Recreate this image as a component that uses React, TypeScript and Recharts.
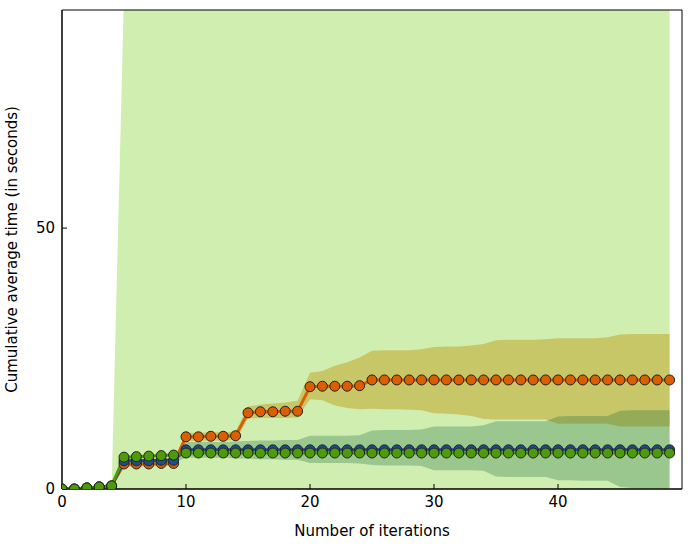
import React from 'react';
import { ComposedChart, Area, Line, XAxis, YAxis, ReferenceArea } from 'recharts';

const iterations = Array.from({ length: 50 }, (_, i) => i);

const orangeMean = [0, 0, 0.2, 0.4, 0.6, 4.8, 4.8, 4.8, 4.9, 4.9, 10, 10, 10.1, 10.1, 10.2,
  14.6, 14.8, 14.8, 14.9, 14.9, 19.6, 19.7, 19.7, 19.7, 19.8,
  20.9, 20.9, 20.9, 20.9, 20.9, 20.9, 20.9, 20.9, 20.9, 20.9, 20.9, 20.9, 20.9, 20.9, 20.9,
  20.9, 20.9, 20.9, 20.9, 20.9, 20.9, 20.9, 20.9, 20.9, 20.9];
const orangeLow = [0, 0, 0.1, 0.3, 0.5, 4.3, 4.3, 4.3, 4.4, 4.4, 9.2, 9.2, 9.3, 9.3, 9.4,
  13.5, 13.6, 13.6, 13.6, 13.7, 17.2, 17, 16, 15.5, 15.3, 15.4, 15.3, 15.3, 15.2, 15.1,
  14.5, 14.4, 14.3, 14, 13.4, 13.3, 13.3, 13.3, 13.3, 13.3, 12.5, 12.5, 12.5, 12.5, 12.5,
  12, 12, 12, 12, 12];
const orangeHigh = [0, 0, 0.3, 0.5, 0.7, 5.3, 5.3, 5.3, 5.4, 5.4, 10.8, 10.8, 10.9, 10.9, 11,
  15.8, 16.2, 16.4, 16.6, 16.9, 22.3, 22.6, 23.6, 24.3, 25.2, 26.5, 26.6, 26.6, 26.6, 26.8,
  27.2, 27.3, 27.3, 27.5, 27.8, 28.5, 28.6, 28.6, 28.6, 28.7, 28.9, 28.9, 28.9, 28.9, 29.1,
  29.6, 29.7, 29.7, 29.7, 29.7];

const blueMean = [0, 0, 0.2, 0.4, 0.5, 5.4, 5.4, 5.4, 5.5, 5.5, 7.5, 7.5, 7.5, 7.5, 7.5,
  7.5, 7.5, 7.5, 7.5, 7.5, 7.5, 7.5, 7.5, 7.5, 7.5, 7.5, 7.5, 7.5, 7.5, 7.5,
  7.5, 7.5, 7.5, 7.5, 7.5, 7.5, 7.5, 7.5, 7.5, 7.5, 7.5, 7.5, 7.5, 7.5, 7.5,
  7.5, 7.5, 7.5, 7.5, 7.5];
const blueLow = [0, 0, 0.1, 0.3, 0.4, 5, 5, 5, 5.1, 5.1, 6, 6, 6, 6, 5.9, 5.8, 5.7, 5.7, 5.6, 5.6,
  5, 5, 5, 5, 4.9, 4.6, 4.5, 4.5, 4.5, 4.4, 3.6, 3.6, 3.6, 3.6, 3.5, 2.4, 2.3, 2.3, 2.3, 2.3,
  1.7, 1.7, 1.6, 1.6, 1.6, 0.4, 0.2, 0.2, 0.2, 0.2];
const blueHigh = [0, 0, 0.3, 0.5, 0.6, 5.8, 5.8, 5.8, 5.9, 5.9, 9, 9, 9, 9, 9.1, 9.2, 9.3, 9.3, 9.4, 9.4,
  10.2, 10.2, 10.2, 10.2, 10.3, 11.2, 11.3, 11.3, 11.3, 11.4, 12, 12, 12, 12, 12.2, 13, 13, 13, 13, 13,
  13.9, 14, 14, 14, 14, 15, 15.1, 15.1, 15.1, 15.1];

const greenMean = [0, 0, 0.2, 0.4, 0.6, 6.1, 6.2, 6.3, 6.4, 6.5, 6.9, 6.9, 6.9, 6.9, 6.9,
  6.9, 6.9, 6.9, 6.9, 6.9, 6.9, 6.9, 6.9, 6.9, 6.9, 6.9, 6.9, 6.9, 6.9, 6.9,
  6.9, 6.9, 6.9, 6.9, 6.9, 6.9, 6.9, 6.9, 6.9, 6.9, 6.9, 6.9, 6.9, 6.9, 6.9,
  6.9, 6.9, 6.9, 6.9, 6.9];
const greenLow = iterations.map(() => 0);
const greenHigh = [null, null, null, null, 0, 95, 95, 95, 95, 95, 95, 95, 95, 95, 95,
  95, 95, 95, 95, 95, 95, 95, 95, 95, 95, 95, 95, 95, 95, 95,
  95, 95, 95, 95, 95, 95, 95, 95, 95, 95, 95, 95, 95, 95, 95,
  95, 95, 95, 95, 95];

const xTicks = [0, 10, 20, 30, 40];
const yTicks = [0, 50];
const yMax = 91.8;

const data = iterations.map((x, i) => ({
  x,
  orange: orangeMean[i],
  blue: blueMean[i],
  green: greenMean[i],
  oBand: [orangeLow[i], orangeHigh[i]],
  bBand: [blueLow[i], blueHigh[i]],
  gBand: greenHigh[i] == null ? null : [greenLow[i], greenHigh[i]],
}));

const font = { fontFamily: 'DejaVu Sans', fontSize: 15, fill: '#000' };

const dot = (fill: string) => ({ r: 5, fill, stroke: '#222', strokeWidth: 1 });

export default function App() {
  return (
    <div style={{ position: 'absolute', left: 0, top: 0, background: '#fff' }}>
      <ComposedChart width={691} height={548} data={data} margin={{ top: 10, right: 9, left: 0, bottom: 0 }}>
        <XAxis
          dataKey="x"
          type="number"
          domain={[0, 50]}
          ticks={xTicks}
          allowDataOverflow
          height={59}
          tick={font}
          tickSize={-5}
          tickMargin={12}
          stroke="#000"
          label={{ value: 'Number of iterations', position: 'insideBottom', offset: 12, style: font }}
        />
        <YAxis
          type="number"
          domain={[0, yMax]}
          ticks={yTicks}
          allowDataOverflow
          width={62}
          tick={font}
          tickSize={-5}
          tickMargin={12}
          stroke="#000"
          label={{ value: 'Cumulative average time (in seconds)', angle: -90, position: 'insideLeft', offset: 12, style: { ...font, textAnchor: 'middle' } }}
        />
        <Area dataKey="gBand" stroke="none" fill="#d0eeb0" fillOpacity={1} isAnimationActive={false} connectNulls={false} />
        <Area dataKey="oBand" stroke="none" fill="#c4b64a" fillOpacity={0.7} isAnimationActive={false} />
        <Area dataKey="bBand" stroke="none" fill="#1f6e3a" fillOpacity={0.3} isAnimationActive={false} />
        <Line dataKey="orange" stroke="#d95f02" strokeWidth={3} dot={dot('#d95f02')} isAnimationActive={false} />
        <Line dataKey="blue" stroke="#1f4e8c" strokeWidth={3} dot={dot('#1f4e8c')} isAnimationActive={false} />
        <Line dataKey="green" stroke="#4d9a0a" strokeWidth={3} dot={dot('#4d9a0a')} isAnimationActive={false} />
        <ReferenceArea x1={0} x2={50} y1={0} y2={yMax} fill="none" stroke="#000" strokeWidth={1} ifOverflow="visible" />
      </ComposedChart>
    </div>
  );
}
